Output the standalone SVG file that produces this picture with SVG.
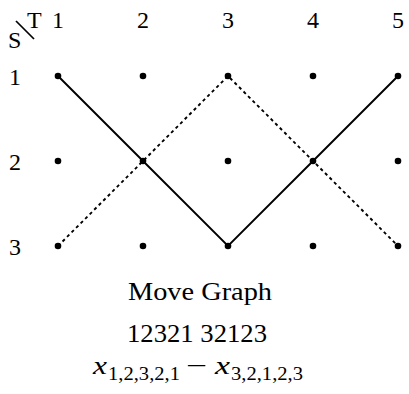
<svg xmlns="http://www.w3.org/2000/svg" width="409" height="394" viewBox="0 0 409 394">
<style>
.c{text-anchor:middle}
.dot{fill:#000}
.solid{stroke:#000;stroke-width:1.9;fill:none}
.dash{stroke:#000;stroke-width:1.9;fill:none;stroke-dasharray:3.2 3.2}
</style>
<rect width="409" height="394" fill="#fff"/>
<g id="header" font-family="Liberation Serif, serif" font-size="24" fill="#000">
<line x1="16" y1="21" x2="34" y2="39" stroke="#000" stroke-width="1.7"/>
<text x="8" y="48">S</text>
<text x="27" y="28">T</text>
<text class="c" x="58" y="28">1</text>
<text class="c" x="143" y="28">2</text>
<text class="c" x="228" y="28">3</text>
<text class="c" x="313" y="28">4</text>
<text class="c" x="398" y="28">5</text>
<text class="c" x="15" y="85">1</text>
<text class="c" x="15" y="170">2</text>
<text class="c" x="15" y="255">3</text>
</g>
<g id="connectors">
<polyline class="solid" points="58,76 143,161 228,246 313,161 398,76"/>
<polyline class="dash" points="58,246 143,161 228,76 313,161 398,246"/>
</g>
<g id="nodes">
<circle id="n11" class="dot" cx="58" cy="76" r="3.3"/>
<circle id="n12" class="dot" cx="143" cy="76" r="3.3"/>
<circle id="n13" class="dot" cx="228" cy="76" r="3.3"/>
<circle id="n14" class="dot" cx="313" cy="76" r="3.3"/>
<circle id="n15" class="dot" cx="398" cy="76" r="3.3"/>
<circle id="n21" class="dot" cx="58" cy="161" r="3.3"/>
<circle id="n22" class="dot" cx="143" cy="161" r="3.3"/>
<circle id="n23" class="dot" cx="228" cy="161" r="3.3"/>
<circle id="n24" class="dot" cx="313" cy="161" r="3.3"/>
<circle id="n25" class="dot" cx="398" cy="161" r="3.3"/>
<circle id="n31" class="dot" cx="58" cy="246" r="3.3"/>
<circle id="n32" class="dot" cx="143" cy="246" r="3.3"/>
<circle id="n33" class="dot" cx="228" cy="246" r="3.3"/>
<circle id="n34" class="dot" cx="313" cy="246" r="3.3"/>
<circle id="n35" class="dot" cx="398" cy="246" r="3.3"/>
</g>
<g id="caption" font-family="Liberation Serif, serif" font-size="25" fill="#000">
<text x="128" y="300" textLength="144" lengthAdjust="spacingAndGlyphs">Move Graph</text>
<text x="127" y="342" textLength="140" lengthAdjust="spacingAndGlyphs">12321 32123</text>
<text font-style="italic" x="93" y="374" textLength="14" lengthAdjust="spacingAndGlyphs">x</text>
<text font-size="18" x="108" y="380" textLength="72" lengthAdjust="spacingAndGlyphs">1,2,3,2,1</text>
<text x="186" y="374" textLength="21" lengthAdjust="spacingAndGlyphs">−</text>
<text font-style="italic" x="215" y="374" textLength="15" lengthAdjust="spacingAndGlyphs">x</text>
<text font-size="18" x="231" y="380" textLength="72" lengthAdjust="spacingAndGlyphs">3,2,1,2,3</text>
</g>
</svg>
